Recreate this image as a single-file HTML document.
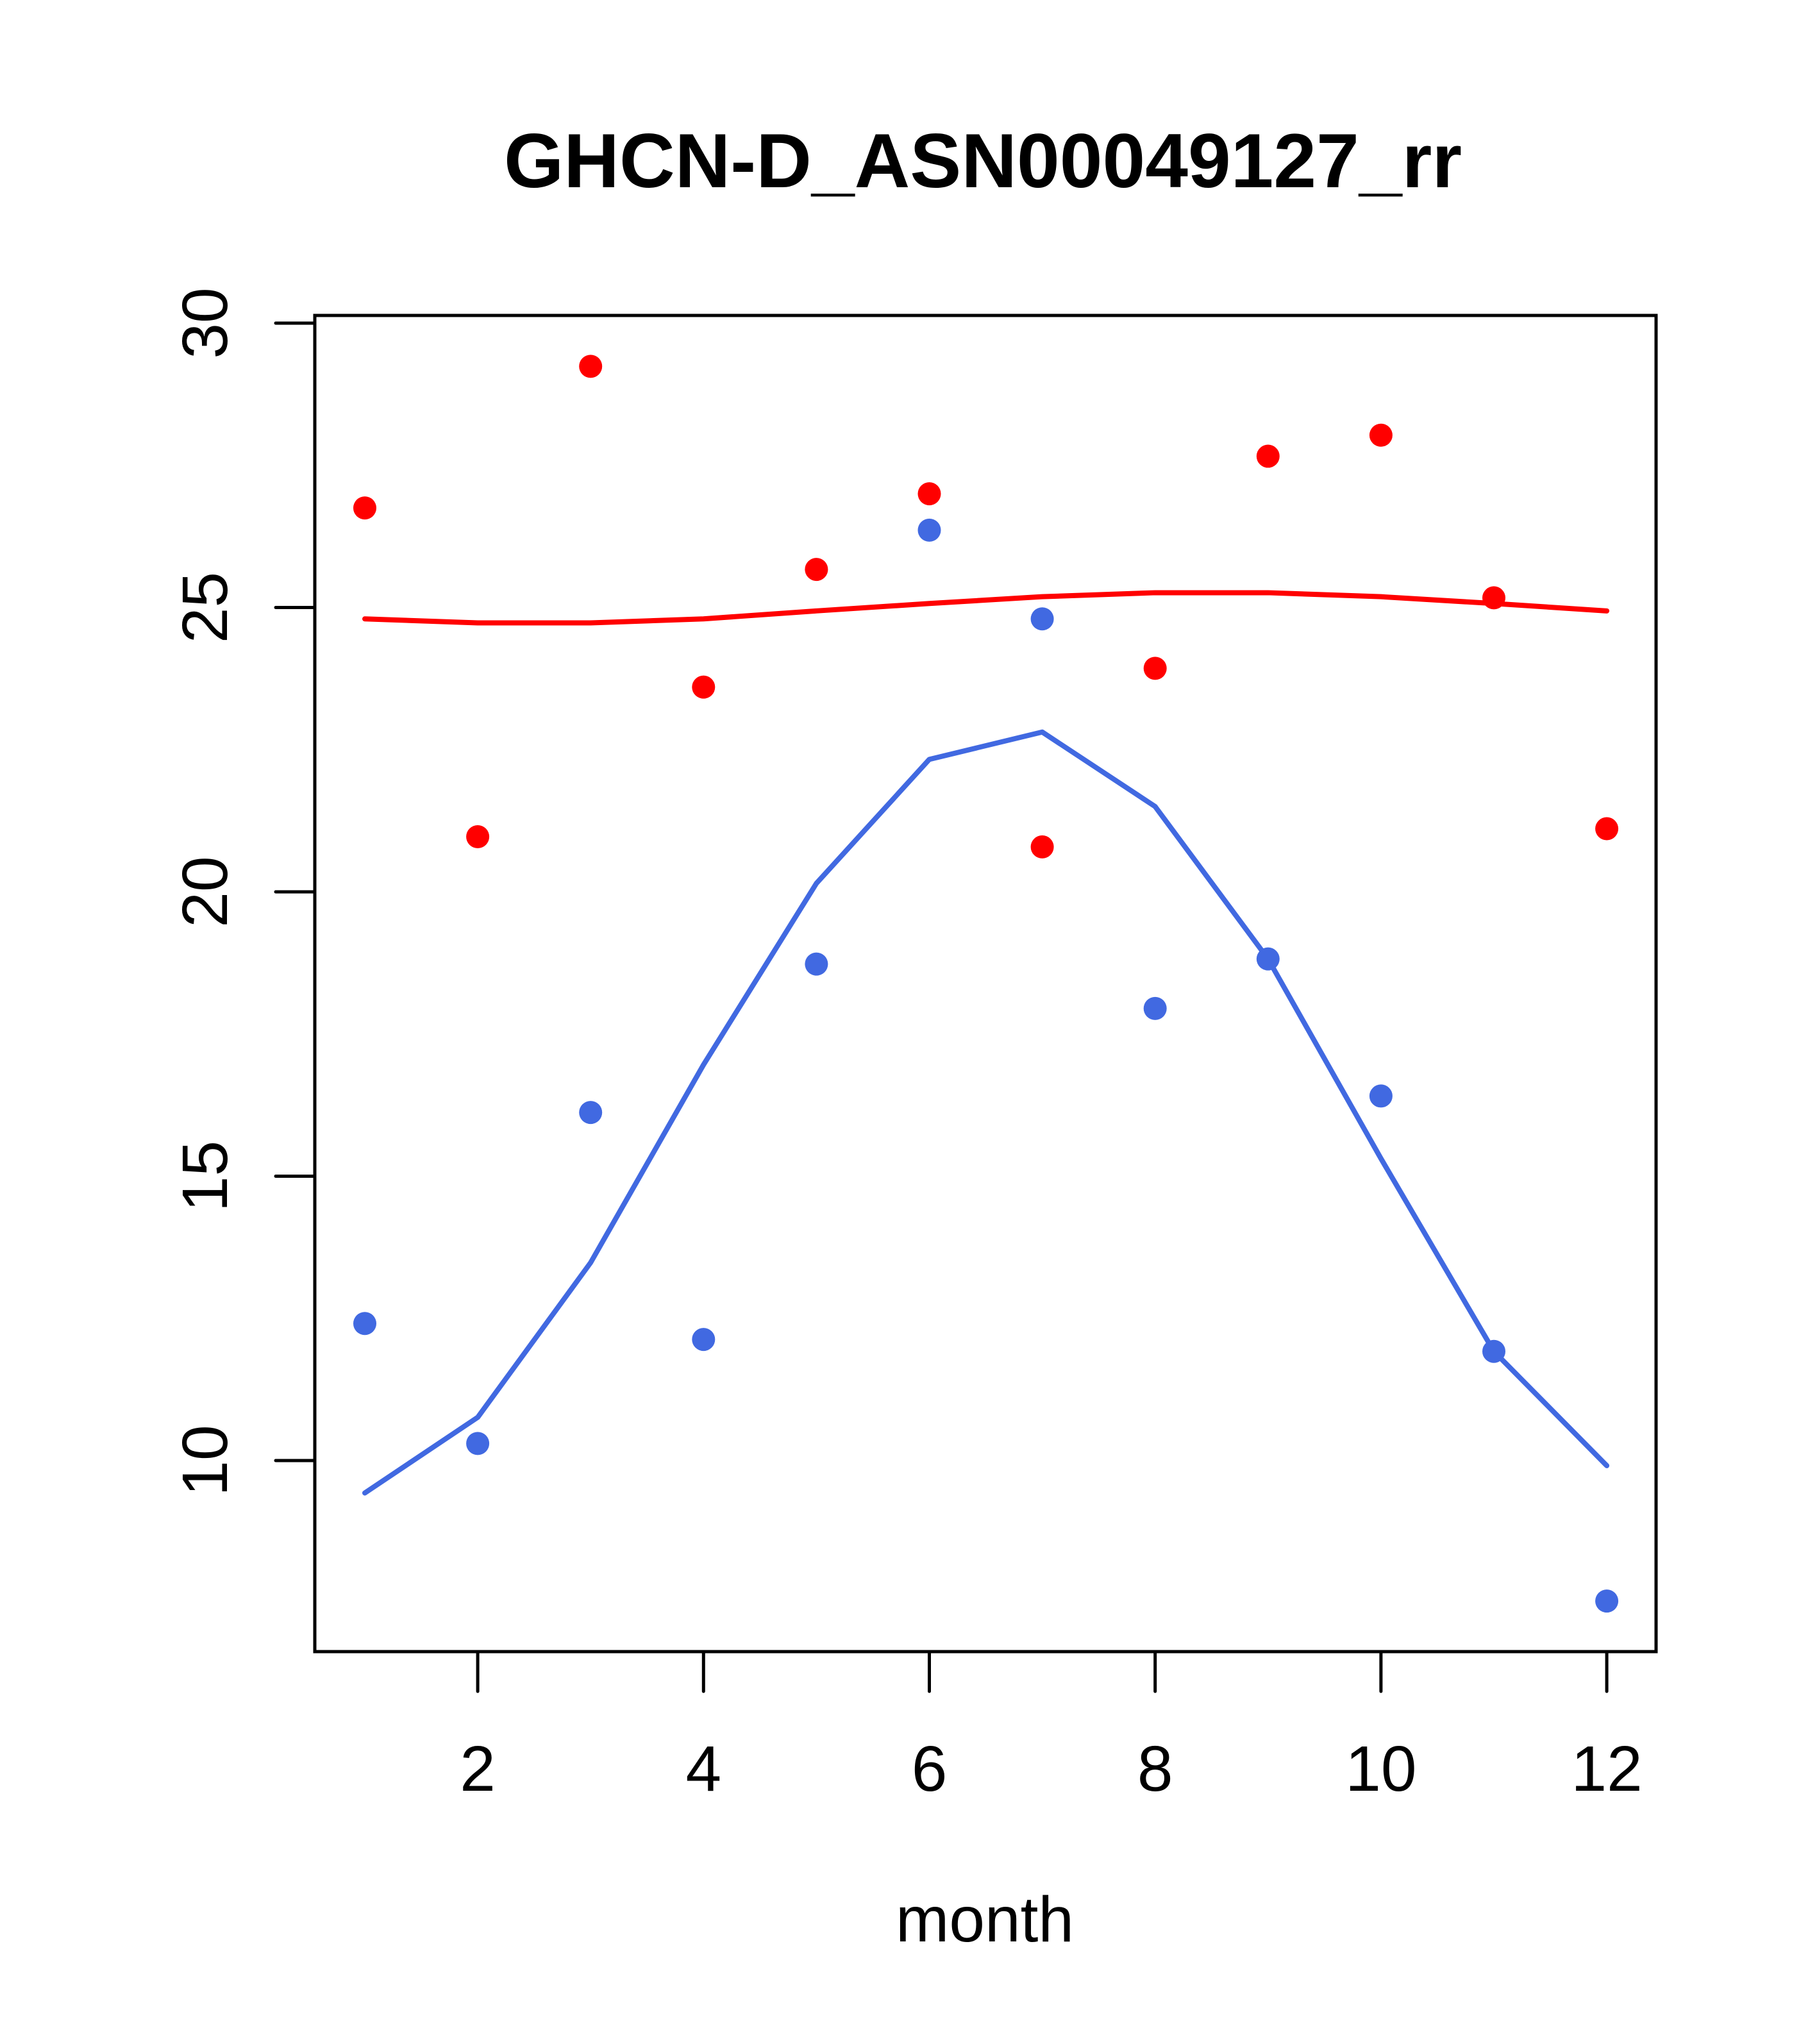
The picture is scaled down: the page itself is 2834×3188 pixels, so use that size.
<!DOCTYPE html>
<html><head><meta charset="utf-8"><style>html,body{margin:0;padding:0;background:#fff}svg{display:block}</style></head>
<body>
<svg id="chart" width="2834" height="3188" viewBox="0 0 2834 3188" xmlns="http://www.w3.org/2000/svg" font-family="Liberation Sans, sans-serif">
<rect width="2834" height="3188" fill="#fff"/>
<text x="1533" y="292" font-size="120" font-weight="bold" text-anchor="middle">GHCN-D_ASN00049127_rr</text>
<g id="plot"></g>
<text x="1536" y="3028" font-size="100" text-anchor="middle">month</text>
</svg>
<script>
const months=[1,2,3,4,5,6,7,8,9,10,11,12];
const redPoints=[26.75,20.97,29.24,23.6,25.67,27.0,20.79,23.93,27.66,28.03,25.17,21.11];
const redLine=[24.8,24.73,24.73,24.8,24.94,25.07,25.19,25.26,25.26,25.19,25.07,24.94];
const bluePoints=[12.41,10.3,16.12,12.13,18.73,26.36,24.8,17.95,18.82,16.41,11.92,7.53];
const blueLine=[9.43,10.76,13.48,16.96,20.15,22.33,22.81,21.5,18.82,15.31,11.92,9.91];
const xTicks=[2,4,6,8,10,12];
const yTicks=[10,15,20,25,30];
const NS='http://www.w3.org/2000/svg';
const g=document.getElementById('plot');
const X=v=>569+(v-1)*176.1;
const Y=v=>504+(30-v)*88.7;
function mk(t,a){const e=document.createElementNS(NS,t);for(const k in a)e.setAttribute(k,a[k]);g.appendChild(e);return e;}
let e=mk('rect',{x:491,y:492,width:2092,height:2084,fill:'none',stroke:'#000','stroke-width':5});


xTicks.forEach(t=>{
 let l=mk('line',{x1:X(t),x2:X(t),y1:2576,y2:2638,stroke:'#000','stroke-width':5,'stroke-linecap':'round'});
 
 
 let tx=mk('text',{x:X(t),y:2793,'font-size':100,'text-anchor':'middle'});tx.textContent=t;
 
 
});
yTicks.forEach(t=>{
 let l=mk('line',{x1:430,x2:491,y1:Y(t),y2:Y(t),stroke:'#000','stroke-width':5,'stroke-linecap':'round'});
 
 
 let tx=mk('text',{x:354,y:Y(t),'font-size':100,'text-anchor':'middle',transform:`rotate(-90 354 ${Y(t)})`});tx.textContent=t;
 
 
});
function line(vals,col,name){
 let p=mk('polyline',{points:months.map((m,i)=>X(m)+','+Y(vals[i])).join(' '),fill:'none',stroke:col,'stroke-width':8,'stroke-linejoin':'round','stroke-linecap':'round'});
 
 
}
function pts(vals,col,name){
 months.forEach((m,i)=>{
  let c=mk('circle',{cx:X(m),cy:Y(vals[i]),r:18,fill:col});
  
  
 });
}
line(redLine,'#ff0000','red-line');
line(blueLine,'#4169e1','blue-line');
pts(redPoints,'#ff0000','red-point');
pts(bluePoints,'#4169e1','blue-point');
</script>
</body></html>
